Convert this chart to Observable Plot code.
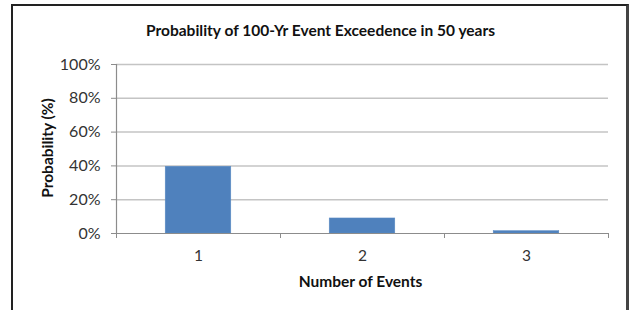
<!DOCTYPE html>
<html>
<head>
<meta charset="utf-8">
<script src="https://cdn.jsdelivr.net/npm/d3@7"></script>
<script src="https://cdn.jsdelivr.net/npm/@observablehq/plot@0.6"></script>
<style>
  html, body { margin: 0; padding: 0; background: #fff; width: 630px; height: 310px; overflow: hidden; }
  #wrap { position: relative; width: 630px; height: 310px; }
  #frame { position: absolute; left: 11px; top: 4px; width: 613px; height: 330px;
           border: 2px solid #222; border-right: 3px solid #444; pointer-events: none; box-sizing: content-box; }
  #chart { position: absolute; left: 0; top: 0; }
</style>
</head>
<body>
<div id="wrap"><div id="chart"></div><div id="frame"></div></div>
<script>
const title = "Probability of 100-Yr Event Exceedence in 50 years";
const xLabel = "Number of Events";
const yLabel = "Probability (%)";
const events = [1, 2, 3];
const probabilities = [0.395, 0.089, 0.014];
const yTicks = [0, 0.2, 0.4, 0.6, 0.8, 1.0];
const categoryBounds = [0.5, 1.5, 2.5, 3.5];

const data = events.map((n, i) => ({n, p: probabilities[i]}));
const font = "Lato, 'Open Sans', sans-serif";

const chart = Plot.plot({
  width: 630,
  height: 310,
  marginLeft: 116,
  marginRight: 22,
  marginTop: 64,
  marginBottom: 77,
  style: {fontFamily: font, background: "#fff", color: "#222"},
  x: {domain: [0.5, 3.5], axis: null},
  y: {domain: [0, 1], axis: null},
  marks: [
    Plot.ruleY(yTicks.filter(d => d > 0), {stroke: "#c4c4c4", strokeWidth: 1.5}),
    Plot.rectY(data, {x1: d => d.n - 0.2, x2: d => d.n + 0.2, y1: 0, y2: "p", fill: "#4F81BD", stroke: "#5b8cc4", strokeWidth: 0.5}),
    Plot.ruleY([0], {stroke: "#8c8c8c", strokeWidth: 1.2}),
    Plot.ruleX([0.5], {stroke: "#8c8c8c", strokeWidth: 1.2}),
    Plot.axisY({ticks: yTicks, tickFormat: d3.format(".0%"), tickSize: 5, tickPadding: 11, stroke: "#8c8c8c", fontSize: 16, fill: "#333", label: null}),
    Plot.axisX({ticks: categoryBounds, tickFormat: () => "", tickSize: 5, stroke: "#8c8c8c", label: null}),
    Plot.axisX({ticks: events, tickFormat: d => String(d), tickSize: 0, tickPadding: 16, fontSize: 15.5, fill: "#333", label: null}),
    Plot.text([title], {frameAnchor: "top", dx: -42, dy: -40, fontSize: 15.5, fontWeight: "bold", fill: "#111"}),
    Plot.text([xLabel], {frameAnchor: "bottom", dx: -2, dy: 53, fontSize: 15.5, fontWeight: "bold", fill: "#111"}),
    Plot.text([yLabel], {frameAnchor: "left", dx: -68, dy: -1, rotate: -90, textAnchor: "middle", fontSize: 15.5, fontWeight: "bold", fill: "#111"})
  ]
});
document.getElementById("chart").appendChild(chart);
</script>
</body>
</html>
